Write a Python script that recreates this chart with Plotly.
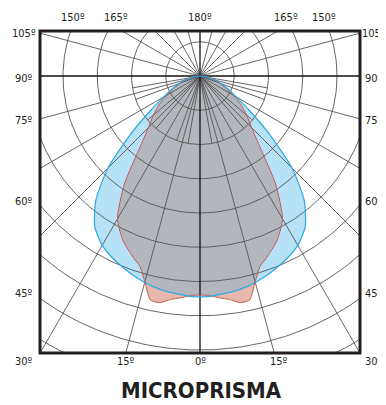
import numpy as np
import plotly.graph_objects as go

# ---- data (half profile, symmetric luminaire), angle from nadir in degrees ----
ANGLES = [0, 2.5, 5, 7.5, 10, 12.5, 15, 17.5, 20, 25, 30, 35, 40, 45, 50, 55, 60, 65, 70, 75, 80, 85, 90]
BLUE_CURVE = [645, 644, 641, 638, 635, 630, 624, 617, 609, 592, 571, 536, 473, 380, 265, 177, 122, 90, 66, 45, 25, 12, 0]
RED_CURVE = [639, 642, 650, 658, 672, 670, 622, 583, 566, 531, 482, 385, 274, 213, 178, 146, 111, 85, 61, 41, 23, 10, 0]

RING_STEP = 100
N_RINGS = 9
RAY_STEP = 15
INNER_RAY_STEP = 10

TOP_LABELS = ["150º", "165º", "180º", "165º", "150º"]
SIDE_LABELS = ["105º", "90º", "75º", "60º", "45º", "30º"]
BOTTOM_LABELS = ["15º", "0º", "15º"]
TITLE = "MICROPRISMA"

# ---- layout geometry (reference pixel coords; page body has an 8px margin) ----
OFF = 8
W, H = 386 - OFF, 405 - OFF
FL, FR, FT, FB = 40, 360, 31, 353     # frame edges in page pixels
PW, PH = FR - FL, FB - FT
ML, MT = FL - OFF, FT - OFF
MB = H - MT - PH
MR = W - ML - PW
CX_PX, CY_PX = 200, 76           # pole position in page pixels
K = RING_STEP / 34.25            # data units per pixel
XR = [-(CX_PX - FL) * K, (FR - CX_PX) * K]
YR = [-(FB - CY_PX) * K, (CY_PX - FT) * K]


def px2paper(x, y):
    return (x - FL) / PW, (FB - y) / PH


def polar_xy(ang, r):
    a = np.radians(np.asarray(ang, float))
    r = np.asarray(r, float)
    return r * np.sin(a), -r * np.cos(a)


def full_profile(ang, vals):
    ang = np.asarray(ang, float)
    vals = np.asarray(vals, float)
    a = np.concatenate([-ang[::-1], ang[1:]])
    v = np.concatenate([vals[::-1], vals[1:]])
    return a, v


fig = go.Figure()

ab, vb = full_profile(ANGLES, BLUE_CURVE)
ar, vr = full_profile(ANGLES, RED_CURVE)
ag, vg = full_profile(ANGLES, np.minimum(BLUE_CURVE, RED_CURVE))

BLUE_FILL = "#b6e1f6"
BLUE_LINE = "#2aaae2"
RED_FILL = "#e7b8ab"
RED_LINE = "#c44f4b"
GRAY_FILL = "#b3b6bc"
GRID = "#555555"

for (a, v, col) in [(ab, vb, BLUE_FILL), (ar, vr, RED_FILL), (ag, vg, GRAY_FILL)]:
    x, y = polar_xy(a, v)
    fig.add_trace(go.Scatter(x=x, y=y, mode="lines", fill="toself", fillcolor=col,
                             line=dict(width=0, color=col, shape="spline", smoothing=0.6),
                             hoverinfo="skip", showlegend=False))

# ---- grid: rings ----
t = np.linspace(0, 2 * np.pi, 361)
gx, gy = [], []
for i in range(1, N_RINGS + 1):
    r = i * RING_STEP
    gx += list(r * np.cos(t)) + [None]
    gy += list(r * np.sin(t)) + [None]
fig.add_trace(go.Scatter(x=gx, y=gy, mode="lines", line=dict(color=GRID, width=0.9),
                         hoverinfo="skip", showlegend=False))

# ---- grid: rays ----
far = 3000
rx, ry = [], []
for d in range(0, 360, RAY_STEP):
    if d % 90 == 0:
        continue
    x, y = polar_xy([d], [far])
    rx += [0, x[0], None]
    ry += [0, y[0], None]
for d in range(-80, 81, INNER_RAY_STEP):
    if d % RAY_STEP == 0:
        continue
    x, y = polar_xy([d], [2 * RING_STEP])
    rx += [0, x[0], None]
    ry += [0, y[0], None]
fig.add_trace(go.Scatter(x=rx, y=ry, mode="lines", line=dict(color=GRID, width=0.9),
                         hoverinfo="skip", showlegend=False))
# main axes lines (0/180 and 90)
fig.add_trace(go.Scatter(x=[-far, far, None, 0, 0], y=[0, 0, None, -far, far], mode="lines",
                         line=dict(color="#111111", width=1.3), hoverinfo="skip", showlegend=False))

# ---- outlines ----
x, y = polar_xy(ar, vr)
fig.add_trace(go.Scatter(x=x, y=y, mode="lines",
                         line=dict(color=RED_LINE, width=0.9, shape="spline", smoothing=0.6),
                         hoverinfo="skip", showlegend=False))
x, y = polar_xy(ab, vb)
fig.add_trace(go.Scatter(x=x, y=y, mode="lines",
                         line=dict(color=BLUE_LINE, width=1.2, shape="spline", smoothing=0.6),
                         hoverinfo="skip", showlegend=False))

# ---- labels ----
FAMILY = ("DejaVu Sans Condensed, Noto Sans Condensed, Liberation Sans Narrow, "
          "Roboto Condensed, Open Sans Condensed, Liberation Sans, sans-serif")
LBL_FONT = dict(family=FAMILY, size=11, color="#231f20")
ann = []
for txt, px in zip(TOP_LABELS, [73, 116, 200, 286, 324]):
    xx, yy = px2paper(px, 17)
    ann.append(dict(x=xx, y=yy, text=txt, xanchor="center", yanchor="middle"))
for txt, py in zip(SIDE_LABELS, [34, 78, 120, 201, 293, 361]):
    xx, yy = px2paper(24, py)
    ann.append(dict(x=xx, y=yy, text=txt, xanchor="center", yanchor="middle"))
    xx, yy = px2paper(374, py)
    ann.append(dict(x=xx, y=yy, text=txt, xanchor="center", yanchor="middle"))
for txt, px in zip(BOTTOM_LABELS, [126, 200, 279]):
    xx, yy = px2paper(px, 361)
    ann.append(dict(x=xx, y=yy, text=txt, xanchor="center", yanchor="middle"))
for a in ann:
    a.update(xref="paper", yref="paper", showarrow=False, font=LBL_FONT)

tx, ty = px2paper(201, 390)
ann.append(dict(x=tx, y=ty, xref="paper", yref="paper", text=f"<b>{TITLE}</b>", showarrow=False,
                xanchor="center", yanchor="middle",
                font=dict(family=FAMILY, size=22, color="#231f20")))

fig.update_layout(
    width=W, height=H,
    margin=dict(l=ML, r=MR, t=MT, b=MB, pad=0),
    paper_bgcolor="white", plot_bgcolor="white",
    xaxis=dict(range=XR, visible=False, fixedrange=True),
    yaxis=dict(range=YR, visible=False, fixedrange=True),
    annotations=ann,
    shapes=[dict(type="rect", xref="paper", yref="paper", x0=0, y0=0, x1=1, y1=1,
                 line=dict(color="#231f20", width=3), layer="above")],
)

fig.write_html("out.html")
